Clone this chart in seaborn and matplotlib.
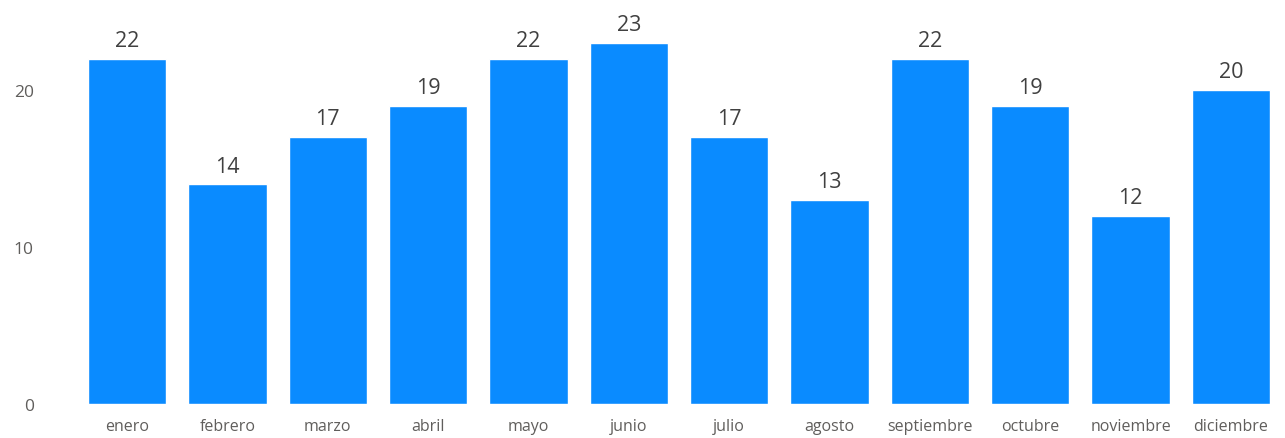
import pandas as pd
import seaborn as sns
import matplotlib.pyplot as plt

# monthly counts
months = ['enero', 'febrero', 'marzo', 'abril', 'mayo', 'junio', 'julio',
          'agosto', 'septiembre', 'octubre', 'noviembre', 'diciembre']
counts = [22, 14, 17, 19, 22, 23, 17, 13, 22, 19, 12, 20]
y_ticks = [0, 10, 20]

data = pd.DataFrame({'Mes': months, 'Cantidad': counts})

sns.set_style('white')
plt.rcParams['font.family'] = ['Open Sans', 'DejaVu Sans']

fig = plt.figure(figsize=(12.85, 4.39), dpi=100)
ax = fig.add_axes([0.0599, 0.0774, 0.937, 0.9])

sns.barplot(data=data, x='Mes', y='Cantidad', color='#0A8BFF', saturation=1,
            width=0.78, ax=ax)

# value labels on top of the bars
for container in ax.containers:
    ax.bar_label(container, fontsize=15.5, color='#404040', padding=5.5)

ax.set_ylim(0, 25.16)
ax.set_xlim(-0.5, 11.5)
ax.set_yticks(y_ticks)
ax.set_xlabel('')
ax.set_ylabel('')
ax.tick_params(axis='x', length=0, pad=10, labelsize=11.5, labelcolor='#605E5C')
ax.tick_params(axis='y', length=0, pad=31, labelsize=12.5, labelcolor='#605E5C')
sns.despine(ax=ax, left=True, bottom=True)

plt.savefig('out.png', dpi=100)
